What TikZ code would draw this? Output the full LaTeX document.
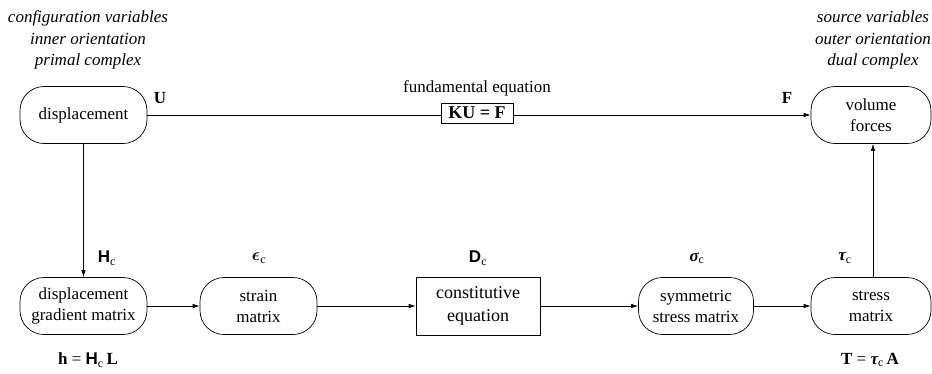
\documentclass[tikz,border=0pt]{standalone}
\usepackage{fontspec}
\setmainfont{Liberation Serif}
\setsansfont{Liberation Sans}
\usepackage{amsmath}
\usepackage{bm}
\usetikzlibrary{arrows.meta}
\newcommand{\sH}{{\sffamily\bfseries H}}
\newcommand{\sD}{{\sffamily\bfseries D}}
\newcommand{\subc}{\textsubscript{c}}
\begin{document}
\begin{tikzpicture}[x=1pt,y=-1pt,
  every node/.style={font=\fontsize{17}{21}\selectfont, inner sep=0pt},
  rnode/.style={draw, line width=0.7pt, rounded corners=24pt, minimum height=57pt, align=center},
  bnode/.style={draw, line width=0.7pt, minimum height=58pt, align=center, font=\fontsize{18}{23.5}\selectfont},
  kbox/.style={draw, line width=0.7pt, minimum height=20pt, minimum width=72pt, font=\fontsize{18}{21}\selectfont\bfseries},
  lab/.style={font=\fontsize{17}{21}\selectfont\bfseries},
  ital/.style={align=center, font=\fontsize{17}{21.5}\selectfont\itshape},
  conn/.style={line width=0.7pt},
  arr/.style={line width=0.7pt, -{Latex[length=7pt,width=4.5pt]}}
]
\useasboundingbox (0,0) rectangle (932,373);

% top texts
\node[ital] (tl) at (88,40) {configuration variables\\inner orientation\\primal complex};
\node[ital] (tr) at (873,40) {source variables\\outer orientation\\dual complex};

% nodes
\node[rnode, minimum width=127pt] (disp) at (83.5,115) {displacement};
\node[rnode, minimum width=120pt] (vf) at (871,115) {volume\\forces};
\node[kbox] (ku) at (477,113) {KU = F};
\node (fe) at (477,88) {fundamental equation};

\node[rnode, minimum width=127pt] (dgm) at (83.5,306) {displacement\\gradient matrix};
\node[rnode, minimum width=117pt] (strain) at (258.5,306) {strain\\matrix};
\node[bnode, minimum width=124pt] (const) at (478,306) {constitutive\\equation};
\node[rnode, minimum width=115pt] (sym) at (696,306) {symmetric\\stress matrix};
\node[rnode, minimum width=120pt] (stress) at (871,306) {stress\\matrix};

% labels
\node[lab] (lU) at (160,98) {U};
\node[lab] (lF) at (787,98) {F};
\node (lH) at (107,258) {\sH\subc};
\node (le) at (259,258) {$\bm{\epsilon}$\subc};
\node (lD) at (478,258) {\sD\subc};
\node (ls) at (697,258) {{\bfseries\itshape σ}\subc};
\node (lt) at (845,258) {{\bfseries\itshape τ}\subc};
\node (lh) at (88,360) {{\bfseries h} = \sH\subc\,{\bfseries L}};
\node (lT) at (870,360) {{\bfseries T} = {\bfseries\itshape τ}\subc\,{\bfseries A}};

% connectors
\draw[conn] (disp.east) -- (ku.west |- disp.east);
\draw[arr] (ku.east |- vf.west) -- (vf.west);
\draw[arr] (disp.south) -- (dgm.north);
\draw[arr] (dgm) -- (strain);
\draw[arr] (strain) -- (const);
\draw[arr] (const) -- (sym);
\draw[arr] (sym) -- (stress);
\draw[arr] ([xshift=2pt]stress.north) -- ([xshift=2pt]vf.south);
\end{tikzpicture}
\end{document}
